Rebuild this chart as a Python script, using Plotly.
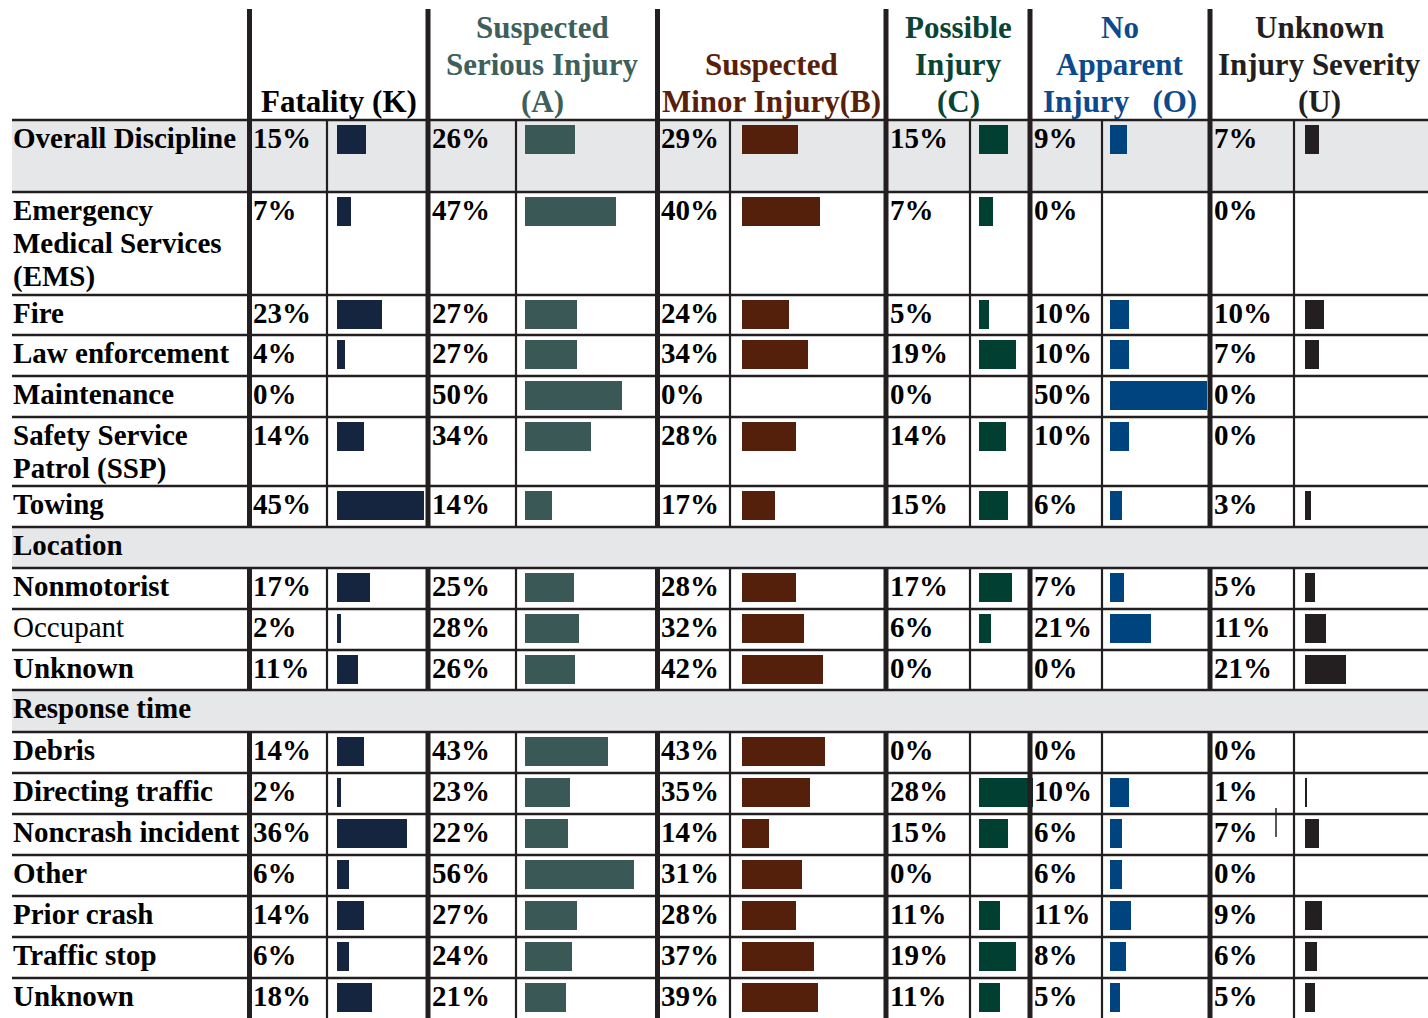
import plotly.graph_objects as go

# ---------------- data ----------------
row_labels = [
    "Overall Discipline",
    "Emergency\nMedical Services\n(EMS)",
    "Fire",
    "Law enforcement",
    "Maintenance",
    "Safety Service\nPatrol (SSP)",
    "Towing",
    "Nonmotorist",
    "Occupant",
    "Unknown",
    "Debris",
    "Directing traffic",
    "Noncrash incident",
    "Other",
    "Prior crash",
    "Traffic stop",
    "Unknown",
]
label_bold = [True] * 8 + [False] + [True] * 8

section_labels = ["Location", "Response time"]
section_starts = [7, 10]  # first data row of each section

severity_titles = [
    ["Fatality (K)"],
    ["Suspected", "Serious Injury", "(A)"],
    ["Suspected", "Minor Injury(B)"],
    ["Possible", "Injury", "(C)"],
    ["No", "Apparent", "Injury\u00a0\u00a0 (O)"],
    ["Unknown", "Injury Severity", "(U)"],
]

fatality    = [15, 7, 23, 4, 0, 14, 45, 17, 2, 11, 14, 2, 36, 6, 14, 6, 18]
serious     = [26, 47, 27, 27, 50, 34, 14, 25, 28, 26, 43, 23, 22, 56, 27, 24, 21]
minor       = [29, 40, 24, 34, 0, 28, 17, 28, 32, 42, 43, 35, 14, 31, 28, 37, 39]
possible    = [15, 7, 5, 19, 0, 14, 15, 17, 6, 0, 0, 28, 15, 0, 11, 19, 11]
no_apparent = [9, 0, 10, 10, 50, 10, 6, 7, 21, 0, 0, 10, 6, 6, 11, 8, 5]
unknown_sev = [7, 0, 10, 7, 0, 0, 3, 5, 11, 21, 0, 1, 7, 0, 9, 6, 5]

series = [fatality, serious, minor, possible, no_apparent, unknown_sev]

# ---------------- styling / layout ----------------
W, H = 1428, 1018
FONT = "Liberation Serif, Times New Roman, serif"
LINE = "#231f20"
GRAY = "#e6e7e8"
ROW_FS = 29
HEAD_FS = 31

bar_colors = ["#15253f", "#3a5856", "#55200b", "#023f33", "#00447f", "#231f20"]
head_colors = ["#000000", "#3e5f5b", "#5a1f0a", "#0a4435", "#0b4a8c", "#231f20"]

# column geometry (px): thick separator, thin separator, next thick separator
thick_x = [249.5, 428, 657.5, 886, 1030, 1210]
thin_x = [327, 516, 730, 970, 1102, 1294]
bar_start = [337, 525, 742, 979, 1110, 1305]
col_end = thick_x[1:] + [W]
PX_PER_PCT = 1.94
BAR_THICK = 29

# table row heights (px), header occupies 0..120
HEADER_BOTTOM = 120
table_heights = [72, 103, 40, 41, 41, 69, 41, 41, 41, 41, 40, 42, 41, 41, 41, 41, 41, 41, 40]

# assemble table rows in order: ("data", i) or ("section", j)
table = []
for i in range(len(row_labels)):
    if i in section_starts:
        table.append(("section", section_starts.index(i)))
    table.append(("data", i))

tops = []
y = HEADER_BOTTOM
for h in table_heights:
    tops.append(y)
    y += h
bottoms = tops[1:] + [H]

data_top = {}
section_rows = []
for (kind, idx), t, b in zip(table, tops, bottoms):
    if kind == "data":
        data_top[idx] = t
    else:
        section_rows.append((idx, t, b))


def mid_from_baseline(baseline, size):
    return baseline - 0.34 * size


fig = go.Figure()

# ---------------- bars ----------------
bar_centers = [data_top[i] + 19 for i in range(len(row_labels))]
for c, vals in enumerate(series):
    ax = "x%d" % (c + 2)
    fig.add_trace(go.Bar(
        x=vals, y=bar_centers, orientation="h", width=BAR_THICK,
        marker=dict(color=bar_colors[c], line=dict(width=0)),
        xaxis=ax, yaxis="y", showlegend=False, hoverinfo="skip",
    ))
    a = thin_x[c]
    b = min(col_end[c] + 12, W)
    s = bar_start[c]
    fig.layout["xaxis%d" % (c + 2)] = dict(
        domain=[a / W, b / W], anchor="y",
        range=[(a - s) / PX_PER_PCT, (b - s) / PX_PER_PCT],
        visible=False, fixedrange=True,
    )

shapes = []
annotations = []

# ---------------- backgrounds ----------------
shapes.append(dict(type="rect", xref="x", yref="y", x0=12, x1=W,
                   y0=data_top[0], y1=data_top[1], fillcolor=GRAY,
                   line=dict(width=0), layer="below"))
for _, t, b in section_rows:
    shapes.append(dict(type="rect", xref="x", yref="y", x0=12, x1=W, y0=t, y1=b,
                       fillcolor=GRAY, line=dict(width=0), layer="below"))

# ---------------- grid lines ----------------
for t in tops:
    shapes.append(dict(type="line", xref="x", yref="y", x0=12, x1=W, y0=t, y1=t,
                       line=dict(color=LINE, width=2.5), layer="above"))

# vertical lines broken by section rows
segments = []
start = None
for (kind, idx), t, b in zip(table, tops, bottoms):
    if kind == "section":
        if start is not None:
            segments.append((start, t))
        start = b
    elif start is None:
        start = t
segments.append((start, H))

for k, (s0, s1) in enumerate(segments):
    for x in thick_x:
        y0 = 9 if k == 0 else s0
        shapes.append(dict(type="line", xref="x", yref="y", x0=x, x1=x, y0=y0, y1=s1,
                           line=dict(color=LINE, width=5), layer="above"))
    for x in thin_x:
        shapes.append(dict(type="line", xref="x", yref="y", x0=x, x1=x, y0=s0, y1=s1,
                           line=dict(color=LINE, width=2.2), layer="above"))

# small stray rule inside the last column
shapes.append(dict(type="line", xref="x", yref="y", x0=1276, x1=1276,
                   y0=data_top[12] - 6, y1=data_top[12] + 23,
                   line=dict(color=LINE, width=1.5), layer="above"))

# ---------------- header text ----------------
col_centers = [(thick_x[c] + col_end[c]) / 2 for c in range(6)]
head_baselines = [38.5, 75.5, 112.5]
for c, lines in enumerate(severity_titles):
    n = len(lines)
    for j, line in enumerate(lines):
        bl = head_baselines[3 - n + j]
        annotations.append(dict(
            x=col_centers[c], y=mid_from_baseline(bl, HEAD_FS), xref="x", yref="y",
            text="<b>%s</b>" % line, showarrow=False, xanchor="center", yanchor="middle",
            font=dict(family=FONT, size=HEAD_FS, color=head_colors[c]),
        ))

# ---------------- row labels ----------------
LABEL_X = 10.5
LINE_STEP = 33.3
for i, lab in enumerate(row_labels):
    base = data_top[i] + 28
    for j, line in enumerate(lab.split("\n")):
        txt = "<b>%s</b>" % line if label_bold[i] else line
        annotations.append(dict(
            x=LABEL_X, y=mid_from_baseline(base + j * LINE_STEP, ROW_FS), xref="x", yref="y",
            text=txt, showarrow=False, xanchor="left", yanchor="middle",
            font=dict(family=FONT, size=ROW_FS, color="#000000"),
        ))

for j, t, b in section_rows:
    annotations.append(dict(
        x=LABEL_X, y=mid_from_baseline(t + 28, ROW_FS), xref="x", yref="y",
        text="<b>%s</b>" % section_labels[j], showarrow=False, xanchor="left", yanchor="middle",
        font=dict(family=FONT, size=ROW_FS, color="#000000"),
    ))

# ---------------- percentage labels ----------------
for c, vals in enumerate(series):
    for i, v in enumerate(vals):
        annotations.append(dict(
            x=thick_x[c] + 1.5, y=mid_from_baseline(data_top[i] + 28, ROW_FS), xref="x", yref="y",
            text="<b>%d%%</b>" % v, showarrow=False, xanchor="left", yanchor="middle",
            font=dict(family=FONT, size=ROW_FS, color="#000000"),
        ))

fig.update_layout(
    width=W, height=H,
    margin=dict(l=0, r=0, t=0, b=0),
    paper_bgcolor="white", plot_bgcolor="rgba(0,0,0,0)",
    xaxis=dict(domain=[0, 1], range=[0, W], visible=False, fixedrange=True),
    yaxis=dict(domain=[0, 1], range=[H, 0], visible=False, fixedrange=True),
    shapes=shapes, annotations=annotations,
    bargap=0, barmode="overlay",
)

fig.write_html("out.html", config={"displayModeBar": False})
